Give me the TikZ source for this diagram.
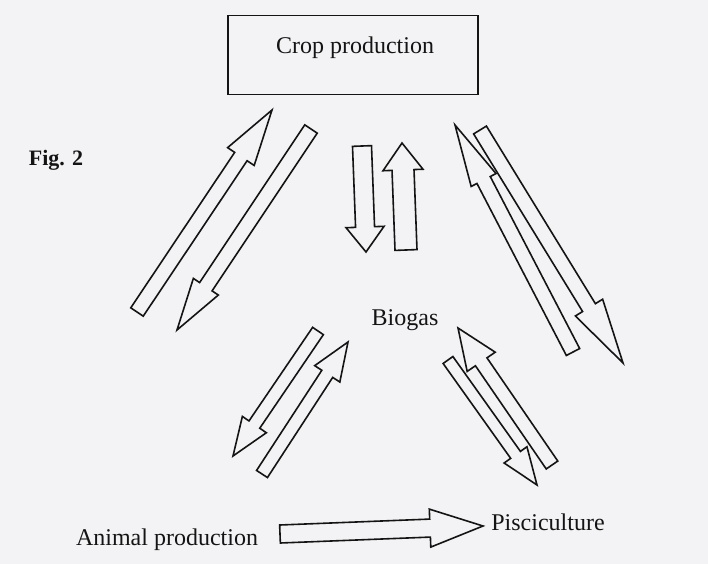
\documentclass[tikz,border=0pt]{standalone}
\usepackage{fontspec}
\setmainfont{Liberation Serif}
\usetikzlibrary{calc}
\definecolor{paper}{RGB}{243,243,245}
\definecolor{ink}{RGB}{20,20,20}
\tikzset{
  hollow/.style={draw=ink, line width=1.6pt, line join=miter},
  txt/.style={font=\fontsize{24}{28}\selectfont, text=ink, inner sep=0pt},
  figtxt/.style={font=\fontsize{22}{26}\selectfont\bfseries, text=ink, inner sep=0pt},
  cropbox/.style={draw=ink, line width=1.8pt, minimum width=250pt, minimum height=79pt, inner sep=0pt}
}
% #1 tail, #2 tip, #3 half shaft width, #4 half head width, #5 head length
\newcommand\blockarr[5]{%
  \coordinate (hb) at ($(#2)!#5!(#1)$);
  \draw[hollow] ($(#1)!#3!90:(#2)$) -- ($(hb)!#3!90:(#2)$) -- ($(hb)!#4!90:(#2)$)
    -- (#2) -- ($(hb)!#4!-90:(#2)$) -- ($(hb)!#3!-90:(#2)$) -- ($(#1)!#3!-90:(#2)$) -- cycle;
}
\begin{document}
\begin{tikzpicture}[x=1pt,y=-1pt]
\fill[paper] (0,0) rectangle (708,564);
\useasboundingbox (0,0) rectangle (708,564);
\node[cropbox] (crop) at (353,55) {};
\node[txt] (croptxt) at (355,48) {Crop production};
\node[figtxt] (fig) at (56,160) {Fig. 2};
\node[txt] (bio) at (405,320) {Biogas};
\node[txt] (anim) at (167,540) {Animal production};
\node[txt] (pisc) at (548,522) {Pisciculture};
% arrow end points
\coordinate (aT) at (137,312); \coordinate (aH) at (272,110);
\coordinate (bT) at (311,129); \coordinate (bH) at (177,330);
\coordinate (cT) at (573,352); \coordinate (cH) at (455,125);
\coordinate (dT) at (480,130); \coordinate (dH) at (623,363);
\coordinate (eT) at (362,146); \coordinate (eH) at (366,252);
\coordinate (fT) at (406,250); \coordinate (fH) at (402,143);
\coordinate (gT) at (318,331); \coordinate (gH) at (233,456);
\coordinate (hT) at (262,474); \coordinate (hH) at (348,342);
\coordinate (iT) at (552,465); \coordinate (iH) at (458,328);
\coordinate (jT) at (448,360); \coordinate (jH) at (537,485);
\coordinate (kT) at (280,534); \coordinate (kH) at (483,526);
\blockarr{aT}{aH}{7.5pt}{16pt}{56pt}
\blockarr{bT}{bH}{7.5pt}{15pt}{52pt}
\blockarr{cT}{cH}{7.5pt}{14pt}{62pt}
\blockarr{dT}{dH}{7.5pt}{16pt}{65pt}
\blockarr{eT}{eH}{9.5pt}{19pt}{25pt}
\blockarr{fT}{fH}{11pt}{20pt}{27pt}
\blockarr{gT}{gH}{6.5pt}{14.5pt}{38pt}
\blockarr{hT}{hH}{6.5pt}{15pt}{38pt}
\blockarr{iT}{iH}{7pt}{17pt}{41pt}
\blockarr{jT}{jH}{6pt}{14pt}{37pt}
\blockarr{kT}{kH}{9pt}{19pt}{53pt}
\end{tikzpicture}
\end{document}
